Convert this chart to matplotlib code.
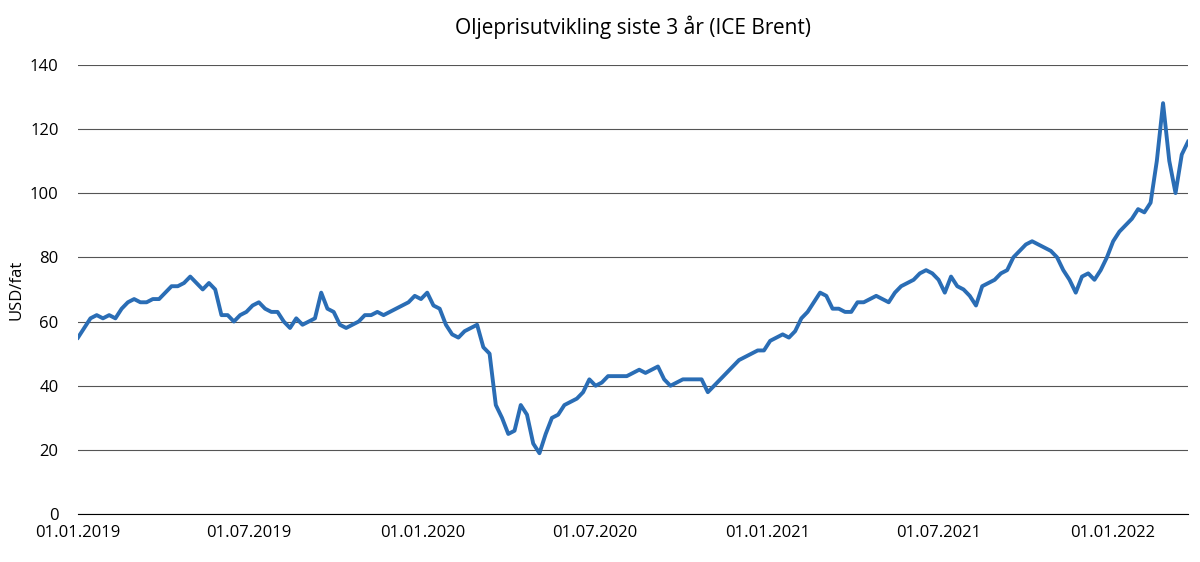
import numpy as np
import pandas as pd
import matplotlib
matplotlib.use("Agg")
import matplotlib.pyplot as plt
import matplotlib.dates as mdates

plt.rcParams["font.family"] = "Open Sans"

# Weekly Brent price estimates (USD/fat), Jan 2019 - Mar 2022
p2019 = [55, 58, 61, 62, 61, 62, 61, 64, 66, 67, 66, 66, 67, 67, 69, 71, 71, 72, 74,
         72, 70, 72, 70, 62, 62, 60, 62, 63, 65, 66, 64, 63, 63, 60, 58, 61, 59, 60,
         61, 69, 64, 63, 59, 58, 59, 60, 62, 62, 63, 62, 63, 64, 65, 66, 68, 67]
p2020 = [69, 65, 64, 59, 56, 55, 57, 58, 59, 52, 50, 34, 30, 25, 26, 34, 31, 22, 19,
         25, 30, 31, 34, 35, 36, 38, 42, 40, 41, 43, 43, 43, 43, 44, 45, 44, 45, 46,
         42, 40, 41, 42, 42, 42, 42, 38, 40, 42, 44, 46, 48, 49, 50, 51, 51]
p2021 = [54, 55, 56, 55, 57, 61, 63, 66, 69, 68, 64, 64, 63, 63, 66, 66, 67, 68, 67,
         66, 69, 71, 72, 73, 75, 76, 75, 73, 69, 74, 71, 70, 68, 65, 71, 72, 73, 75,
         76, 80, 82, 84, 85, 84, 83, 82, 80, 76, 73, 69, 74, 75, 73, 76]
p2022 = [80, 85, 88, 90, 92, 95, 94, 97, 110, 128, 110, 100, 112, 116]
prices = p2019 + p2020 + p2021 + p2022

start = pd.Timestamp("2019-01-01")
end = pd.Timestamp("2022-03-22")
dates = pd.to_datetime(np.linspace(start.value, end.value, len(prices)))

tick_dates = ["2019-01-01", "2019-07-01", "2020-01-01", "2020-07-01",
              "2021-01-01", "2021-07-01", "2022-01-01"]

fig, ax = plt.subplots(figsize=(12, 5.62), dpi=100)
fig.subplots_adjust(left=0.065, right=0.99, top=0.885, bottom=0.085)

ax.plot(dates, prices, color="#2a6db5", lw=2.8)

ax.set_ylim(0, 140)
ax.set_yticks(range(0, 141, 20))
ax.set_xlim(start, end)
ax.set_xticks(pd.to_datetime(tick_dates))
ax.xaxis.set_major_formatter(mdates.DateFormatter("%d.%m.%Y"))
ax.grid(axis="y", color="#555555", lw=0.8)
ax.set_axisbelow(True)
for s in ["top", "right", "left"]:
    ax.spines[s].set_visible(False)
ax.spines["bottom"].set_color("black")
ax.tick_params(axis="y", length=0, labelsize=12, pad=14)
ax.tick_params(axis="x", length=0, labelsize=12, pad=8)
ax.set_ylabel("USD/fat", fontsize=12, labelpad=4)
ax.set_title("Oljeprisutvikling siste 3 år (ICE Brent)", fontsize=15, pad=22)

fig.savefig("out.png")
